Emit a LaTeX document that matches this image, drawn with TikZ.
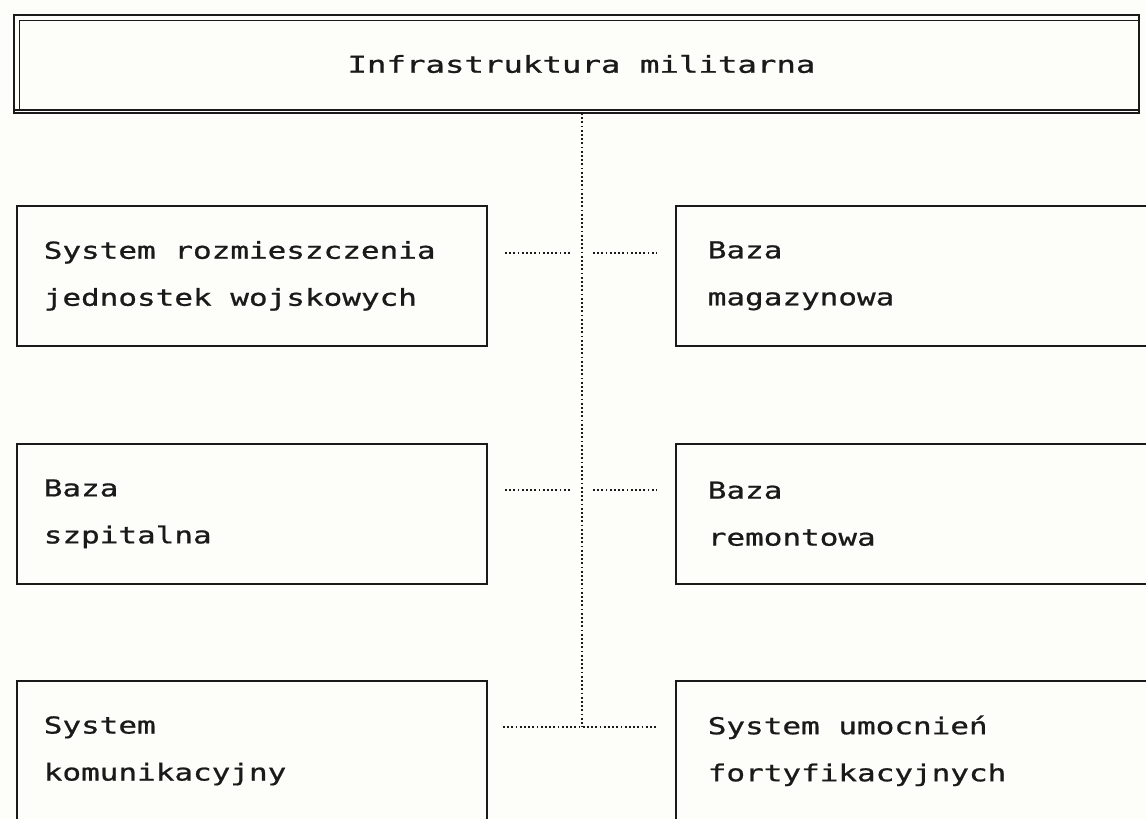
\documentclass[tikz,border=0pt]{standalone}
\usepackage{fontspec}
\newfontfamily\dotfont[FakeStretch=1.33,FakeBold=0.9]{DejaVu Sans Mono}
\newfontfamily\dotfonttop[FakeStretch=1.39,FakeBold=0.9]{DejaVu Sans Mono}
\newcommand\mybodyfont{\dotfont\fontsize{23.3}{47}\selectfont\spaceskip 18.66pt\relax}
\newcommand\mytopfont{\dotfonttop\fontsize{23.3}{47}\selectfont\spaceskip 19.5pt\relax}
\definecolor{ink}{HTML}{1A1A1A}
\definecolor{paper}{HTML}{FDFDF9}
\tikzset{
  boxnode/.style={draw=ink, line width=1.6pt, rectangle, anchor=north west,
    minimum width=#1, minimum height=140pt, text width=416pt, align=left,
    inner xsep=27pt, inner ysep=0pt, text=ink, font=\mybodyfont,
    execute at begin node={\spaceskip 18.66pt\relax\xspaceskip 18.66pt\relax}},
  boxnode/.default=470pt,
  dotline/.style={draw=ink, line width=1.8pt, dash pattern=on 1.8pt off 2.4pt}
}
\begin{document}
\begin{tikzpicture}[x=1pt, y=-1pt]
\useasboundingbox (0,0) rectangle (1146,819);
\fill[paper] (0,0) rectangle (1146,819);
\clip (0,0) rectangle (1146,819);
% top box
\node[draw=ink, line width=2.2pt, anchor=north west, minimum width=1125pt, minimum height=98pt,
  inner sep=0pt, outer sep=0pt, text=ink, font=\mytopfont] (top) at (14,15)
  {\hspace*{10pt}Infrastruktura militarna};
\draw[ink, line width=1pt] (19.5,20) -- (19.5,109);
\draw[ink, line width=1pt] (19.5,20) -- (1139,20);
\draw[ink, line width=2pt] (14,110) -- (1139,110);
% boxes
\node[boxnode] (l1) at (16,205) {System rozmieszczenia\\jednostek wojskowych};
\node[boxnode=480pt] (r1) at (675,205) {Baza\\magazynowa};
\node[boxnode] (l2) at (16,443) {Baza\\szpitalna};
\node[boxnode=480pt] (r2) at (675,443) {Baza\\remontowa};
\node[boxnode] (l3) at (16,680) {System\\komunikacyjny};
\node[boxnode=480pt] (r3) at (675,680) {System umocnień\\fortyfikacyjnych};
% connectors
\coordinate (j) at (582,727);
\coordinate (a1) at (505,253); \coordinate (b1) at (570,253);
\coordinate (c1) at (593,253); \coordinate (d1) at (657,253);
\coordinate (a2) at (505,490); \coordinate (b2) at (570,490);
\coordinate (c2) at (593,490); \coordinate (d2) at (657,490);
\coordinate (a3) at (503,727); \coordinate (d3) at (657,727);
\draw[dotline] (top.south -| j) -- (j);
\draw[dotline] (a1) -- (b1);
\draw[dotline] (c1) -- (d1);
\draw[dotline] (a2) -- (b2);
\draw[dotline] (c2) -- (d2);
\draw[dotline] (a3) -- (d3);
\end{tikzpicture}
\end{document}
